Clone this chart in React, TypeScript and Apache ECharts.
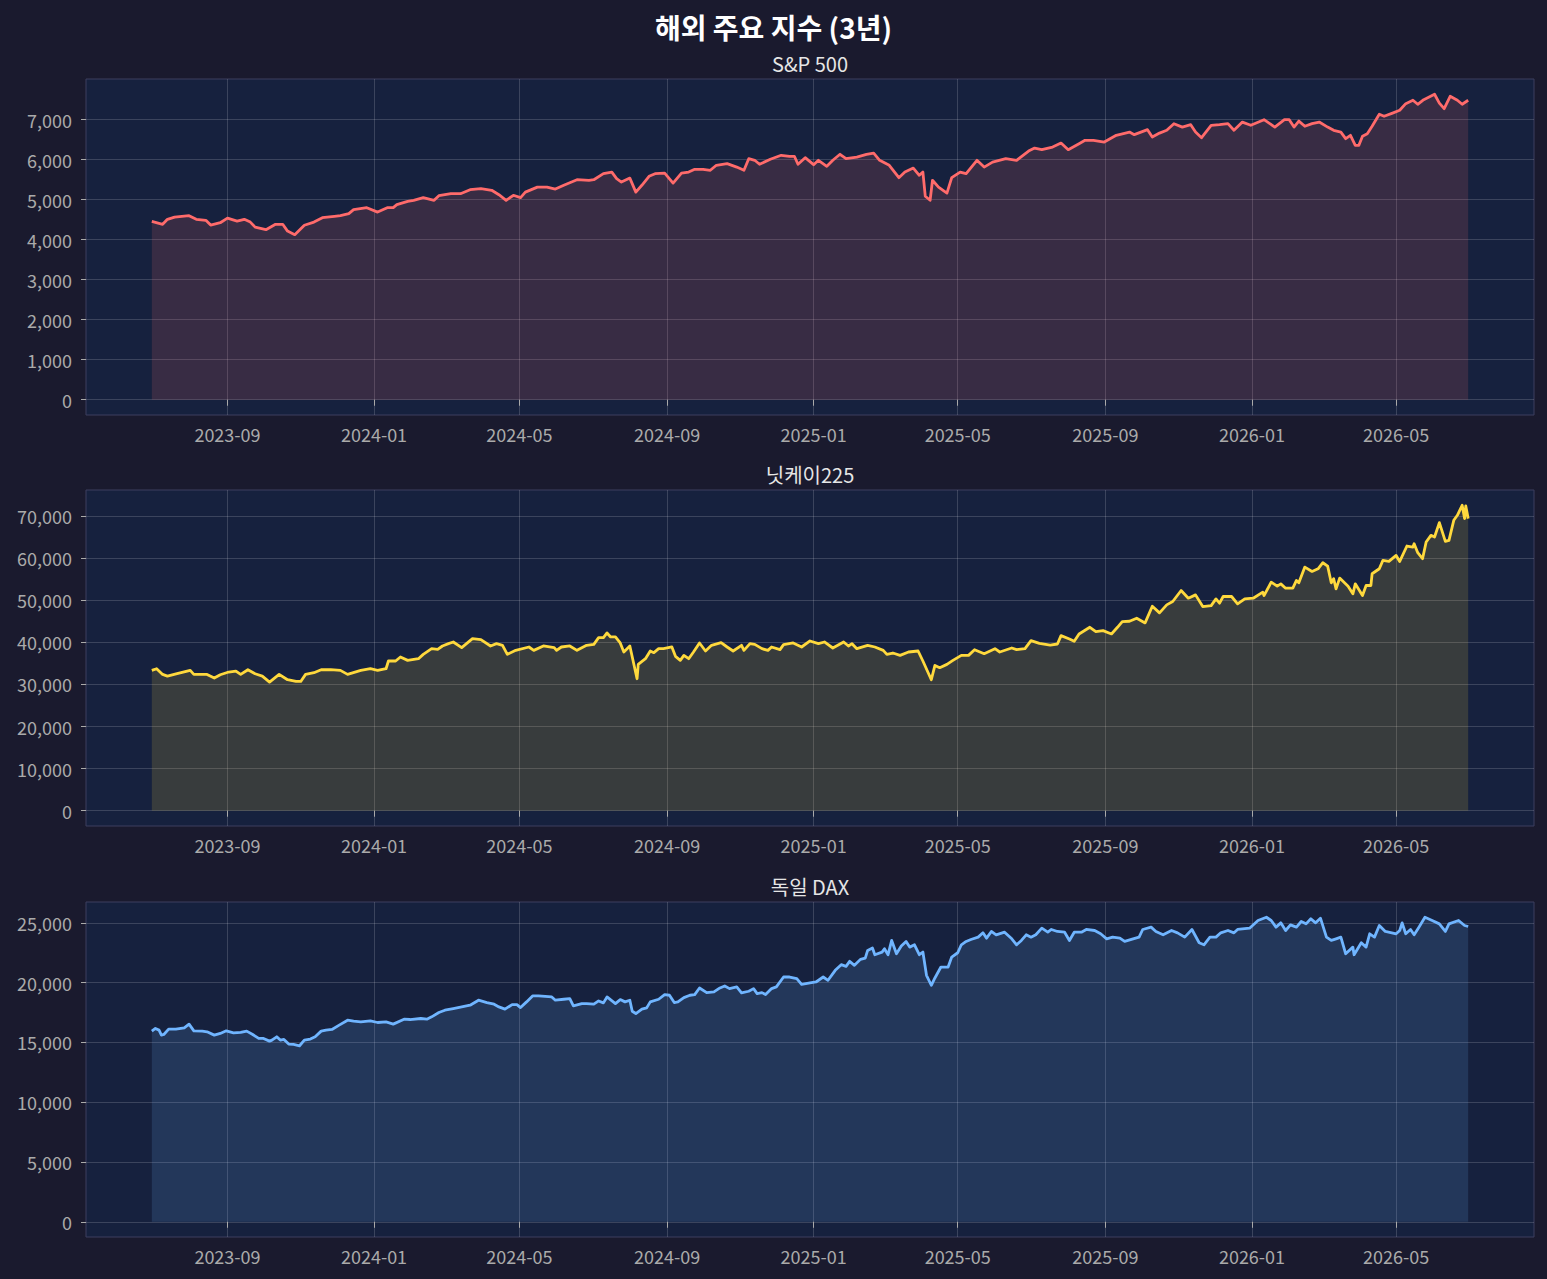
import React, { useEffect, useRef } from "react";
import * as echarts from "echarts";

// ---------- data ----------
const START_DATE = "2023-06-30"; // day 0 of every series
const MAIN_TITLE = "해외 주요 지수 (3년)";
const PANEL_TITLES = ["S&P 500", "닛케이225", "독일 DAX"];

const X_TICKS = [
  "2023-09-01", "2024-01-01", "2024-05-01", "2024-09-01", "2025-01-01",
  "2025-05-01", "2025-09-01", "2026-01-01", "2026-05-01",
];
const SP_TICKS = [0, 1000, 2000, 3000, 4000, 5000, 6000, 7000];
const NK_TICKS = [0, 10000, 20000, 30000, 40000, 50000, 60000, 70000];
const DAX_TICKS = [0, 5000, 10000, 15000, 20000, 25000];

// S&P 500 : days since START_DATE / index level
const spDays = [
  0, 9, 13, 19, 31, 37, 45, 49, 57, 63, 71, 77, 82, 86, 95, 103, 109, 113, 119, 127, 135, 142, 152, 157, 164, 168, 179, 188, 196, 201,
  204, 213, 218, 226, 235, 239, 249, 257, 265, 274, 283, 289, 295, 301, 307, 311, 321, 329, 336, 343, 354, 364,
  368, 376, 383, 387, 391, 398, 403, 408, 414, 419, 427, 434, 441, 447, 452, 459, 465, 470, 479, 487, 493, 497, 502, 506,
  515, 524, 531, 535, 538, 544, 551, 555, 562, 567, 573, 578, 587, 595, 601, 606, 614, 622, 627, 634, 639, 642, 644, 648,
  650, 655, 662, 666, 673, 678, 687, 693, 700, 711, 720,
  730, 735, 741, 750, 757, 763, 772, 777, 784, 793, 803, 814, 818, 829, 833, 839, 845, 851, 858, 865, 869, 874, 882, 889,
  896, 901, 908, 915, 926, 935, 943, 947, 951, 955, 960, 966, 972, 979, 984, 990, 994, 998, 1002, 1005, 1008, 1012, 1016,
  1022, 1026, 1033, 1039, 1044, 1050, 1054, 1059, 1068, 1072, 1076, 1081, 1087, 1091, 1096,
];
const spValues = [
  4460, 4385, 4510, 4565, 4600, 4510, 4485, 4365, 4425, 4540, 4465, 4510, 4440, 4315, 4250, 4385, 4385, 4215, 4125, 4360, 4440, 4550, 4585, 4600, 4650, 4750, 4800, 4690, 4800, 4800,
  4875, 4960, 4985, 5050, 4985, 5100, 5150, 5150, 5250, 5275, 5235, 5125, 4985, 5110, 5050, 5190, 5315, 5315, 5265, 5360, 5500, 5485,
  5500, 5650, 5690, 5525, 5440, 5540, 5190, 5360, 5585, 5650, 5665, 5415, 5665, 5690, 5760, 5760, 5735, 5860, 5900, 5815, 5735, 6025, 5985, 5885,
  6010, 6110, 6085, 6085, 5885, 6050, 5875, 5985, 5835, 5985, 6135, 6025, 6065, 6135, 6165, 5985, 5860, 5550, 5690, 5790, 5610, 5690, 5085, 4985,
  5485, 5315, 5165, 5550, 5690, 5650, 5985, 5815, 5940, 6025, 5985,
  6215, 6290, 6250, 6315, 6415, 6250, 6400, 6485, 6485, 6440, 6610, 6690, 6625, 6750, 6565, 6665, 6735, 6900, 6815, 6875, 6690, 6550, 6860, 6875,
  6900, 6735, 6940, 6860, 7000, 6815, 7000, 7000, 6815, 6965, 6835, 6900, 6940, 6815, 6735, 6690, 6525, 6610, 6360, 6360, 6585, 6650, 6835,
  7135, 7085, 7165, 7235, 7400, 7485, 7385, 7500, 7635, 7415, 7275, 7585, 7485, 7385, 7485,
];

// Nikkei 225
const nkDays = [
  0, 4, 9, 13, 21, 32, 35, 46, 52, 57, 64, 70, 74, 80, 86, 92, 98, 106, 113, 120, 124, 128, 135, 141, 149, 157, 163, 174, 182, 188,
  195, 197, 203, 207, 213, 222, 226, 233, 238, 242, 247, 251, 258, 267, 274, 282, 287, 292, 296, 303, 314, 318, 326, 335, 337, 341,
  348, 354, 362,
  368, 372, 376, 379, 382, 386, 390, 393, 398, 404, 405, 411, 415, 418, 422, 426, 433, 436, 440, 443, 447, 451, 456, 461, 466, 474,
  479, 484, 491, 493, 498, 502, 508, 513, 516, 523, 526, 534, 541, 548, 555, 560, 567, 576, 580, 583, 587, 596, 602, 609, 612, 617,
  623, 630, 638, 642, 649, 652, 656, 662, 667, 674, 680, 685, 693, 702, 706, 716, 720, 727,
  732, 739, 748, 754, 757, 764, 768, 772, 781, 786, 792, 799, 804, 808, 814, 820, 827, 833, 839, 845, 850, 857, 863, 869, 875, 882,
  886, 889, 892, 899, 904, 910, 917, 925, 926, 932, 937, 940, 944, 950, 953, 955, 960, 966, 971, 975, 979, 982, 984, 986, 989, 996,
  1000, 1002, 1008, 1011, 1015, 1016, 1022, 1025, 1030, 1036, 1039, 1045, 1050, 1051, 1054, 1058, 1061, 1065, 1068, 1072, 1077,
  1080, 1084, 1087, 1091, 1093, 1094, 1096,
];
const nkValues = [
  33330, 33730, 32380, 31980, 32540, 33330, 32380, 32380, 31510, 32300, 32940, 33170, 32380, 33490, 32540, 31980, 30560, 32380, 31110, 30710, 30710, 32380, 32780, 33490, 33490, 33330, 32380, 33330, 33730, 33330,
  33730, 35560, 35560, 36510, 35710, 36110, 37140, 38490, 38330, 39130, 39680, 40080, 38730, 40870, 40630, 39130, 39680, 39290, 37140, 38090, 38890, 38090, 39130, 38730, 38090, 38890,
  39130, 38090, 39290,
  39520, 41110, 41110, 42220, 41270, 41270, 39840, 37700, 39130, 31350, 34760, 36110, 37940, 37540, 38490, 38490, 38890, 36670, 35710, 36900, 36110, 37700, 39840, 37940, 39290, 39920,
  38890, 37940, 39290, 38090, 39680, 39520, 38490, 38090, 38890, 38250, 39440, 39840, 38890, 40320, 39680, 40080, 38650, 40080, 39130, 39680, 38490, 39290, 38890, 38090, 37140, 37460,
  36900, 37700, 37940, 35560, 31110, 34520, 33970, 34760, 35710, 36900, 36900, 38250, 37300, 38490, 37700, 38650, 38250, 38490,
  40400, 39760, 39360, 39600, 41590, 40790, 40240, 41990, 43570, 42540, 42780, 41990, 43570, 44920, 45000, 45720, 44610, 48580, 46990, 48890, 49690, 52310, 50480, 51270, 48500, 48730,
  50320, 49290, 50880, 50880, 49130, 50320, 50480, 51910, 51110, 54290, 53340, 53890, 52860, 52860, 54690, 54130, 57870, 56830, 57470, 58900, 58100, 54130, 55090, 52700, 55250, 53340,
  51510, 53890, 51110, 53500, 53500, 56280, 57470, 59450, 59210, 60640, 59210, 62870, 62630, 63420, 61280, 59850, 63820, 65410, 65010, 68430, 63980,
  64220, 68980, 70170, 72550, 69380, 72390, 69380,
];

// DAX
const daxDays = [
  0, 3, 6, 8, 10, 14, 20, 27, 31, 35, 42, 46, 52, 57, 62, 68, 74, 79, 84, 89, 93, 98, 100, 104, 107, 110, 114, 118, 123, 127,
  132, 136, 141, 145, 150, 156, 163, 168, 174, 182, 188, 195, 201, 210, 215, 224, 229, 233, 239, 244, 251, 258, 265, 272, 279, 285,
  289, 294, 300, 304, 307, 312, 317, 322, 333, 336, 343, 348, 351, 358,
  362, 368, 372, 376, 379, 386, 390, 394, 398, 400, 403, 408, 412, 415, 422, 427, 431, 435, 438, 443, 448, 452, 456, 462, 468, 473,
  477, 481, 487, 491, 497, 501, 504, 508, 511, 516, 520, 526, 531, 537, 541, 548, 553, 559, 563, 569, 574, 578, 581, 585, 590, 594,
  596, 600, 602, 608, 610, 613, 616, 620, 624, 628, 631, 635, 639, 642, 645, 649, 652, 657, 663, 666, 671, 674, 678, 682, 688, 692,
  695, 699, 703, 710, 716, 720, 724,
  728, 732, 736, 741, 746, 749, 754, 760, 764, 768, 774, 778, 785, 790, 795, 800, 806, 810, 817, 822, 825, 832, 836, 842, 849, 854,
  860, 866, 872, 876, 881, 886, 890, 896, 901, 904, 914, 921, 928, 932, 936, 940, 944, 948, 953, 957, 961, 965, 969, 973, 978, 982,
  986, 990, 994, 1000, 1001, 1007, 1011, 1014, 1018, 1022, 1027, 1036, 1039, 1041, 1044, 1048, 1051, 1055, 1060, 1066, 1072, 1077,
  1080, 1088, 1093, 1096,
];
const daxValues = [
  15940, 16165, 16030, 15610, 15665, 16110, 16110, 16220, 16530, 15970, 15945, 15890, 15610, 15750, 15970, 15805, 15835, 15945, 15665, 15335, 15335, 15110, 15195, 15470, 15195, 15250, 14860, 14835, 14720, 15195,
  15280, 15470, 15945, 16030, 16085, 16445, 16860, 16780, 16720, 16805, 16665, 16720, 16530, 16945, 16915, 17000, 16945, 17140, 17500, 17695, 17835, 17970, 18110, 18530, 18335, 18195,
  17970, 17780, 18165, 18165, 17915, 18390, 18890, 18890, 18805, 18530, 18610, 18665, 18055, 18250,
  18250, 18195, 18470, 18305, 18805, 18250, 18585, 18390, 18530, 17610, 17415, 17780, 17890, 18390, 18610, 19000, 18945, 18335, 18390, 18750, 18945, 19000, 19555, 19165, 19220, 19555,
  19720, 19500, 19640, 19140, 19280, 19500, 19085, 19165, 19000, 19500, 19640, 20470, 20470, 20335, 19860, 19970, 20055, 20470, 20195, 21030, 21500, 21360, 21780, 21445, 21945, 22055,
  22695, 22890, 22335, 22555, 22835, 22335, 23530, 22415, 23055, 23445, 22970, 23165, 22335, 22555, 20610, 19780, 20390, 21305, 21305, 22140, 22500, 23165, 23445, 23610, 23805, 24165,
  23720, 24280, 24000, 24220, 23665, 23165, 23530,
  24000, 23805, 24000, 24555, 24220, 24445, 24280, 24220, 23530, 24220, 24220, 24445, 24360, 24085, 23665, 23805, 23720, 23445, 23665, 23805, 24445, 24640, 24280, 24000, 24360, 24165,
  23805, 24445, 23335, 23165, 23805, 23805, 24165, 24360, 24165, 24445, 24555, 25195, 25470, 25195, 24640, 25000, 24360, 24835, 24640, 25110, 24915, 25335, 25000, 25390, 23805, 23530,
  23665, 23805, 22415, 22970, 22335, 23335, 22970, 24085, 23805, 24780, 24280, 24085, 24360, 25000, 24085, 24445, 24000, 24640, 25470, 25195, 24915, 24280,
  24915, 25195, 24780, 24695,
];

// ---------- styling ----------
const FONT = "'Noto Sans CJK KR', 'Noto Sans', sans-serif";
const PAGE_BG = "#1a1a2e";
const PLOT_BG = "#16213e";
const SPINE = "#3c3f5f";
const GRID_LINE = "rgba(255,255,255,0.16)";
const TICK_TEXT = "#aaaaaa";
const COLORS = ["#ff6b6b", "#ffd93d", "#70b5ff"];
const W = 1547;
const H = 1279;
const GRID_LEFT = 86;
const GRID_WIDTH = 1448;
const GRID_TOPS = [79, 490, 902];
const GRID_HEIGHTS = [336, 336, 335];
const DAY = 86400000;

function fmtMonth(v: number) {
  const d = new Date(v);
  const m = d.getUTCMonth() + 1;
  return d.getUTCFullYear() + "-" + (m < 10 ? "0" + m : "" + m);
}

export default function App() {
  const ref = useRef<HTMLDivElement>(null);

  useEffect(() => {
    document.body.style.margin = "0";
    document.body.style.background = PAGE_BG;
    if (!ref.current) return;
    const chart = echarts.init(ref.current, undefined, { renderer: "svg" });

    const startMs = Date.parse(START_DATE + "T00:00:00Z");
    const xTickMs = X_TICKS.map((s) => Date.parse(s + "T00:00:00Z"));
    const panels = [
      { days: spDays, values: spValues, ticks: SP_TICKS },
      { days: nkDays, values: nkValues, ticks: NK_TICKS },
      { days: daxDays, values: daxValues, ticks: DAX_TICKS },
    ];

    const grids: any[] = [];
    const xAxes: any[] = [];
    const yAxes: any[] = [];
    const series: any[] = [];
    const graphics: any[] = [
      {
        type: "text",
        x: W / 2,
        y: 27,
        style: {
          text: MAIN_TITLE,
          fill: "#ffffff",
          fontSize: 28,
          fontWeight: "bold",
          fontFamily: FONT,
          align: "center",
          verticalAlign: "middle",
        },
      },
    ];

    panels.forEach((p, i) => {
      const d0 = p.days[0];
      const d1 = p.days[p.days.length - 1];
      const pad = (d1 - d0) * 0.05;
      const vMax = Math.max(...p.values);
      grids.push({
        left: GRID_LEFT,
        top: GRID_TOPS[i],
        width: GRID_WIDTH,
        height: GRID_HEIGHTS[i],
        show: true,
        backgroundColor: PLOT_BG,
        borderColor: SPINE,
        borderWidth: 1,
        containLabel: false,
      });
      xAxes.push({
        type: "value",
        gridIndex: i,
        scale: true,
        min: startMs + (d0 - pad) * DAY,
        max: startMs + (d1 + pad) * DAY,
        axisLine: { show: false },
        axisTick: {
          show: true,
          length: 6,
          customValues: xTickMs,
          lineStyle: { color: TICK_TEXT, width: 1 },
        },
        axisLabel: {
          show: true,
          customValues: xTickMs,
          formatter: (v: number) => fmtMonth(v),
          color: TICK_TEXT,
          fontSize: 18,
          fontFamily: FONT,
          margin: 10,
        },
        splitLine: { show: true, lineStyle: { color: GRID_LINE, width: 1 } },
      });
      yAxes.push({
        type: "value",
        gridIndex: i,
        min: -vMax * 0.05,
        max: vMax * 1.05,
        axisLine: { show: false },
        axisTick: {
          show: true,
          length: 5,
          customValues: p.ticks,
          lineStyle: { color: TICK_TEXT, width: 1 },
        },
        axisLabel: {
          show: true,
          customValues: p.ticks,
          formatter: (v: number) => Math.round(v).toLocaleString("en-US"),
          color: TICK_TEXT,
          fontSize: 18,
          fontFamily: FONT,
          margin: 14,
        },
        splitLine: { show: true, lineStyle: { color: GRID_LINE, width: 1 } },
      });
      series.push({
        type: "line",
        xAxisIndex: i,
        yAxisIndex: i,
        showSymbol: false,
        symbol: "none",
        silent: true,
        lineStyle: { color: COLORS[i], width: 2.8, join: "round" },
        itemStyle: { color: COLORS[i] },
        areaStyle: { color: COLORS[i], opacity: 0.15 },
        data: p.days.map((d, k) => [startMs + d * DAY, p.values[k]]),
      });
      graphics.push({
        type: "text",
        x: GRID_LEFT + GRID_WIDTH / 2,
        y: GRID_TOPS[i] - 16,
        style: {
          text: PANEL_TITLES[i],
          fill: "#e6e6e6",
          fontSize: 20,
          fontFamily: FONT,
          align: "center",
          verticalAlign: "middle",
        },
      });
    });

    chart.setOption({
      animation: false,
      backgroundColor: PAGE_BG,
      textStyle: { fontFamily: FONT },
      grid: grids,
      xAxis: xAxes,
      yAxis: yAxes,
      series,
      graphic: graphics,
    });

    return () => chart.dispose();
  }, []);

  return <div ref={ref} style={{ width: W, height: H }} />;
}
